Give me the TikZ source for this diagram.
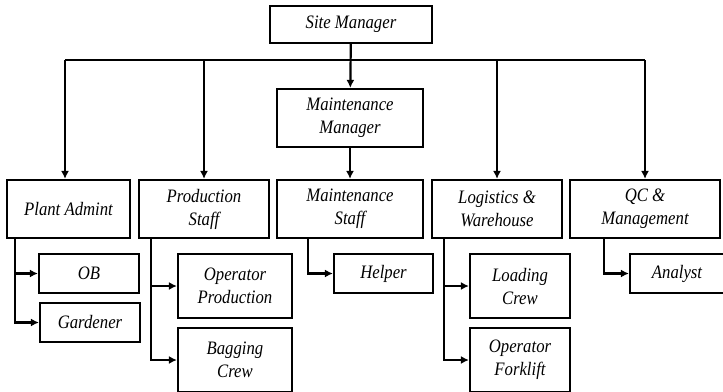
\documentclass[tikz,border=0pt]{standalone}
\usepackage{fontspec}
\setmainfont{Liberation Serif}[FakeStretch=0.88]
\usetikzlibrary{positioning, arrows.meta}
\tikzset{
	box/.style={draw, line width=2.2pt, align=center, inner sep=0pt, font=\fontsize{19}{23}\selectfont\itshape}, % every box of the chart
	line/.style={line width=2.2pt}, % plain connector
	arr/.style={line, -{Latex[length=8pt,width=8pt]}}, % connector ending in an arrow
}

\begin{document}
\begin{tikzpicture}[x=1pt, y=-1pt]
	\useasboundingbox (0,0) rectangle (723,391);
	% top levels
	\node[box, minimum width=162pt, minimum height=37pt] (site) at (351,24.5) {Site Manager};
	\node[box, minimum width=146pt, minimum height=58pt] (mman) at (350,118) {Maintenance\\Manager};
	% departments
	\node[box, minimum width=123pt, minimum height=58pt] (padm) at (68.5,209) {Plant Admint};
	\node[box, minimum width=130pt, minimum height=58pt] (prod) at (204,209) {Production\\Staff};
	\node[box, minimum width=146pt, minimum height=58pt] (mstaff) at (350,209) {Maintenance\\Staff};
	\node[box, minimum width=130pt, minimum height=58pt] (logi) at (497,209) {Logistics \&\\Warehouse};
	\node[box, minimum width=150pt, minimum height=58pt] (qc) at (645,209) {QC \&\\Management};
	% staff under the departments
	\node[box, minimum width=100pt, minimum height=39pt] (ob) at (89,273.5) {OB};
	\node[box, minimum width=100pt, minimum height=39pt] (gard) at (90,322.5) {Gardener};
	\node[box, minimum width=114pt, minimum height=64pt] (opprod) at (235,286) {Operator\\Production};
	\node[box, minimum width=114pt, minimum height=64pt] (bag) at (235,360) {Bagging\\Crew};
	\node[box, minimum width=99pt, minimum height=39pt] (helper) at (383.5,273.5) {Helper};
	\node[box, minimum width=100pt, minimum height=64pt] (load) at (520,286) {Loading\\Crew};
	\node[box, minimum width=100pt, minimum height=64pt] (fork) at (520,360) {Operator\\Forklift};
	\node[box, minimum width=94pt, minimum height=39pt] (analyst) at (677,273.5) {Analyst};
	% bus under the site manager
	\coordinate (busL) at (65,60);
	\coordinate (busR) at (645,60);
	\draw[line] (busL) -- (busR);
	\draw[arr] (site) -- (mman);
	\draw[arr] (mman) -- (mstaff);
	\draw[arr] (busL) -- (busL |- padm.north);
	\draw[arr] (prod.north |- busL) -- (prod.north);
	\draw[arr] (logi.north |- busL) -- (logi.north);
	\draw[arr] (busR) -- (qc.north);
	% department to staff
	\draw[arr] (padm.south west) ++(9,0) |- (ob.west);
	\draw[arr] (padm.south west) ++(9,0) |- (gard.west);
	\draw[arr] (prod.south west) ++(13,0) |- (opprod.west);
	\draw[arr] (prod.south west) ++(13,0) |- (bag.west);
	\draw[arr] (mstaff.south west) ++(32,0) |- (helper.west);
	\draw[arr] (logi.south west) ++(13,0) |- (load.west);
	\draw[arr] (logi.south west) ++(13,0) |- (fork.west);
	\draw[arr] (qc.south west) ++(35,0) |- (analyst.west);
\end{tikzpicture}
\end{document}
